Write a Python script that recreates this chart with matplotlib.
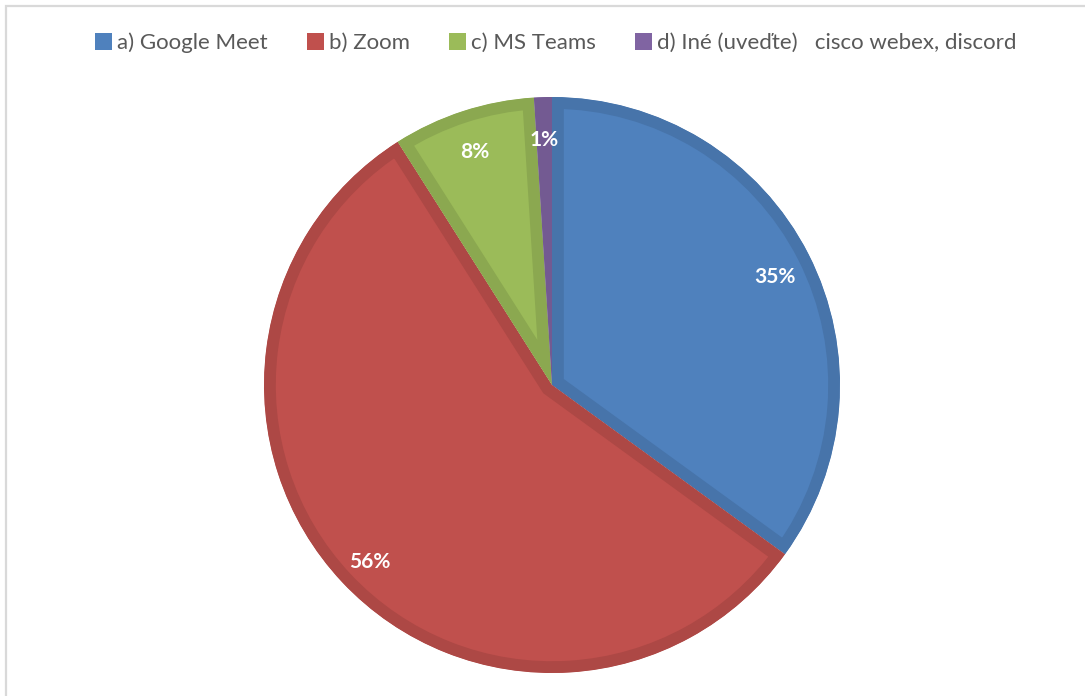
import matplotlib
matplotlib.use('Agg')
import matplotlib.pyplot as plt
from matplotlib.patches import Patch, Rectangle
from matplotlib.colors import to_rgb

# chart data
labels = ['a) Google Meet', 'b) Zoom', 'c) MS Teams', 'd) Iné (uveďte)   cisco webex, discord']
shares = [35, 56, 8, 1]
colors = ['#4F81BD', '#C0504D', '#9BBB59', '#8064A2']

plt.rcParams['font.family'] = ['Lato', 'DejaVu Sans']

W, H = 1085, 696
fig = plt.figure(figsize=(W / 100, H / 100), dpi=100)

# light gray frame, cropped at right/bottom like the screenshot
fig.patches.append(Rectangle((6 / W, -0.1), 1.2, (H - 6) / H + 0.1,
                             transform=fig.transFigure, fill=False,
                             edgecolor='#D9D9D9', linewidth=1.6))

# pie axes: centre (552, 385), radius 288 px, small margin around
r = 288
pad = 1.03
cx, cy = 552, H - 385
ax = fig.add_axes([(cx - r * pad) / W, (cy - r * pad) / H, 2 * r * pad / W, 2 * r * pad / H])

def darker(c, f=0.9):
    return tuple(v * f for v in to_rgb(c))

wedges, texts, autotexts = ax.pie(
    shares, colors=colors, startangle=90, counterclock=False, radius=1,
    autopct='%1.0f%%', pctdistance=0.87,
    textprops=dict(color='white', fontsize=15, fontweight='bold'),
    wedgeprops=dict(linewidth=0))

ax.set_xlim(-pad, pad)
ax.set_ylim(-pad, pad)
ax.set_aspect('equal')
ax.axis('off')

for w, c in zip(wedges, colors):
    # inner darker band: stroke clipped to the wedge's own outline
    w.set_edgecolor(darker(c))
    w.set_linewidth(17)
    w.set_joinstyle('miter')
    w.set_clip_on(True)
    w.set_clip_path(w.get_path(), w.get_transform())

for t in autotexts:
    x, y = t.get_position()
    t.set_position((x, y - 0.02))

handles = [Patch(facecolor=c, edgecolor='none') for c in colors]
fig.legend(handles, labels, loc='center', bbox_to_anchor=(556 / W, (H - 43) / H),
           ncol=4, frameon=False, fontsize=16, handlelength=0.75, handleheight=0.75,
           handletextpad=0.25, columnspacing=1.75, labelcolor='#595959')

fig.savefig('out.png', dpi=100)
